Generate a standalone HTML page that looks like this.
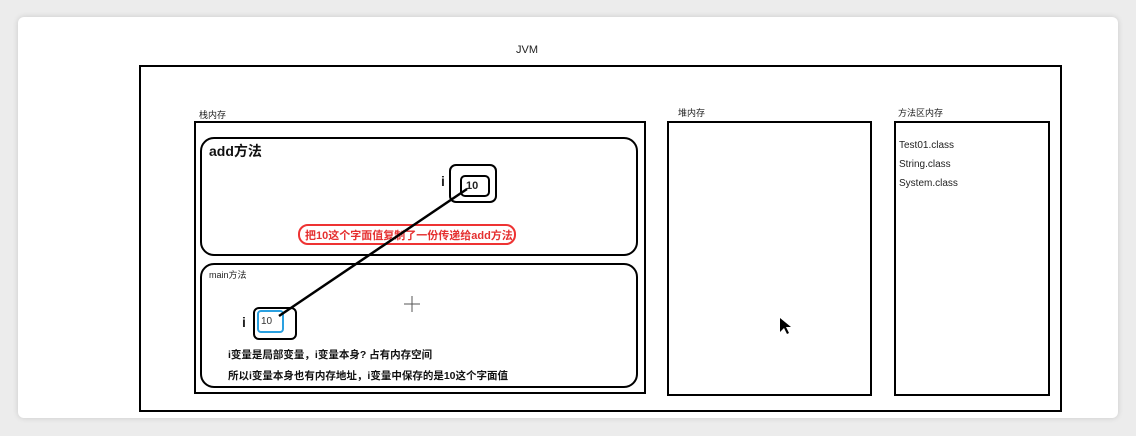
<!DOCTYPE html>
<html><head><meta charset="utf-8"><style>
body{margin:0;width:1136px;height:436px;background:#ececec;position:relative;overflow:hidden;font-family:"Liberation Sans","Noto Sans CJK SC",sans-serif}
.a{position:absolute;box-sizing:border-box}
.t{position:absolute;white-space:nowrap;color:#222}
</style></head><body>
<div class="a" style="left:18px;top:17px;width:1100px;height:401px;background:#fff;border-radius:6px;box-shadow:0 0 6px rgba(0,0,0,.15)"></div>
<div class="t" style="left:516px;top:44px;font-size:11px">JVM</div>
<div class="a" style="left:139px;top:65px;width:923px;height:347px;border:2px solid #000"></div>
<div class="t" style="left:199px;top:108px;font-size:9px">栈内存</div>
<div class="a" style="left:194px;top:121px;width:452px;height:273px;border:2px solid #000"></div>
<div class="a" style="left:200px;top:137px;width:438px;height:119px;border:2px solid #000;border-radius:14px"></div>
<div class="t" style="left:209px;top:141px;font-size:14px;font-weight:bold;color:#111">add方法</div>
<div class="t" style="left:441px;top:173px;font-size:14px;font-weight:bold">i</div>
<div class="a" style="left:449px;top:164px;width:48px;height:39px;border:2px solid #000;border-radius:7px"></div>
<div class="a" style="left:460px;top:175px;width:30px;height:22px;border:2px solid #000;border-radius:5px"></div>
<div class="t" style="left:466px;top:180px;font-size:11px;font-weight:bold">10</div>
<div class="a" style="left:298px;top:224px;width:218px;height:21px;border:2px solid #e33;border-radius:10px;background:#fff"></div>
<div class="t" style="left:305px;top:227px;font-size:11px;font-weight:bold;color:#e53030">把10这个字面值复制了一份传递给add方法</div>
<div class="a" style="left:200px;top:263px;width:438px;height:125px;border:2px solid #000;border-radius:14px"></div>
<div class="t" style="left:209px;top:268px;font-size:9px">main方法</div>
<div class="t" style="left:242px;top:314px;font-size:14px;font-weight:bold">i</div>
<div class="a" style="left:253px;top:307px;width:44px;height:33px;border:2px solid #000;border-radius:6px"></div>
<div class="a" style="left:257px;top:310px;width:27px;height:23px;border:2px solid #2aa0e0;border-radius:4px"></div>
<div class="t" style="left:261px;top:316px;font-size:10px;color:#333">10</div>
<div class="t" style="left:228px;top:347px;font-size:10.5px;font-weight:bold;color:#111">i变量是局部变量，i变量本身? 占有内存空间</div>
<div class="t" style="left:228px;top:368px;font-size:10.5px;font-weight:bold;color:#111">所以i变量本身也有内存地址，i变量中保存的是10这个字面值</div>
<div class="t" style="left:678px;top:106px;font-size:9px">堆内存</div>
<div class="a" style="left:667px;top:121px;width:205px;height:275px;border:2px solid #000"></div>
<div class="t" style="left:898px;top:106px;font-size:9px">方法区内存</div>
<div class="a" style="left:894px;top:121px;width:156px;height:275px;border:2px solid #000"></div>
<div class="t" style="left:899px;top:140px;font-size:10px">Test01.class</div>
<div class="t" style="left:899px;top:159px;font-size:10px">String.class</div>
<div class="t" style="left:899px;top:178px;font-size:10px">System.class</div>
<svg class="a" style="left:0;top:0" width="1136" height="436">
<line x1="467" y1="189" x2="279" y2="316" stroke="#000" stroke-width="2.5"/>
<g stroke="#555" stroke-width="1"><line x1="412" y1="296" x2="412" y2="312"/><line x1="404" y1="304" x2="420" y2="304"/></g>
<path d="M780 318 L780 332 L784 328 L787 334 L789 333 L786 327 L791 327 Z" fill="#000"/>
</svg>
</body></html>
